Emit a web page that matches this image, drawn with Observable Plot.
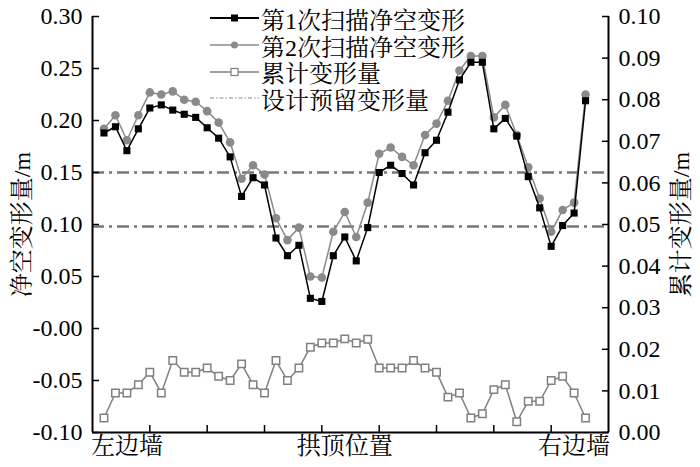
<!DOCTYPE html>
<html><head><meta charset="utf-8">
<script src="https://cdn.jsdelivr.net/npm/d3@7"></script>
<script src="https://cdn.jsdelivr.net/npm/@observablehq/plot@0.6"></script>
<style>
body{margin:0;background:#fff;}
#wrap{position:relative;width:700px;height:467px;font-family:'Liberation Serif','Noto Serif CJK SC',serif;}
#legend{position:absolute;left:210px;top:5px;font-size:24px;color:#000;font-family:'Liberation Serif','Noto Serif CJK SC',serif;}
#legend .row{display:flex;align-items:center;height:26.7px;white-space:nowrap;}
#legend svg{display:block;margin-right:1px;}
</style></head><body><div id="wrap"><div id="legend"></div></div>
<script>
// Measurement positions along the tunnel section (1..43)
const scan1 = [0.188,0.194,0.171,0.192,0.212,0.215,0.210,0.206,0.203,0.193,0.183,0.165,0.127,0.145,0.138,0.087,0.070,0.080,0.029,0.026,0.070,0.088,0.065,0.097,0.150,0.157,0.149,0.138,0.169,0.181,0.208,0.239,0.256,0.256,0.192,0.202,0.185,0.146,0.116,0.079,0.099,0.111,0.219];
const scan2 = [0.192,0.205,0.181,0.205,0.227,0.225,0.228,0.220,0.218,0.209,0.198,0.179,0.144,0.157,0.148,0.106,0.085,0.097,0.050,0.049,0.093,0.112,0.088,0.121,0.168,0.174,0.165,0.157,0.186,0.197,0.219,0.248,0.262,0.262,0.203,0.215,0.186,0.155,0.125,0.093,0.114,0.121,0.225];
const cumulative = [0.0035,0.0095,0.0095,0.0115,0.0145,0.0095,0.0173,0.0145,0.0145,0.0155,0.0135,0.0125,0.0165,0.0115,0.0095,0.0173,0.0125,0.0155,0.0205,0.0215,0.0215,0.0225,0.0215,0.0224,0.0155,0.0155,0.0155,0.0173,0.0155,0.0145,0.0085,0.0095,0.0035,0.0045,0.0103,0.0115,0.0026,0.0075,0.0075,0.0125,0.0135,0.0095,0.0035];
const designValues = [0.15, 0.098];
const leftTicks = [0.30,0.25,0.20,0.15,0.10,0.05,0,-0.05,-0.10];
const leftTickLabels = ["0.30","0.25","0.20","0.15","0.10","0.05","-0.00","-0.05","-0.10"];
const rightTicks = [0,0.01,0.02,0.03,0.04,0.05,0.06,0.07,0.08,0.09,0.10];
const rightTickLabels = ["0.00","0.01","0.02","0.03","0.04","0.05","0.06","0.07","0.08","0.09","0.10"];
const xTicks = [5,10,15,20,25,30,35,40];
const sectionPositions = [3,22,42];
const sectionLabels = ["左边墙","拱顶位置","右边墙"];
const seriesNames = ["第1次扫描净空变形","第2次扫描净空变形","累计变形量","设计预留变形量"];

const toLeft = r => -0.10 + r * 4;           // right axis (0..0.10) -> left axis (-0.10..0.30)
const rightTicksLeft = rightTicks.map(toLeft);

const s1 = scan1.map((v,i)=>({x:i+1,y:v}));
const s2 = scan2.map((v,i)=>({x:i+1,y:v}));
const s3 = cumulative.map((v,i)=>({x:i+1,y:v}));

const FONT = "'Liberation Serif','Noto Serif CJK SC',serif";
const GRAY = "#8a8a8a";

const chart = Plot.plot({
  width:700, height:467,
  marginLeft:92, marginRight:92, marginTop:16, marginBottom:35,
  x:{domain:[0,45]},
  y:{domain:[-0.10,0.30]},
  style:{fontFamily:FONT, fontSize:"24px", color:"#000", background:"#fff", overflow:"visible"},
  marks:[
    Plot.ruleY(designValues, {stroke:"#777", strokeWidth:2.5, strokeDasharray:"12,5,3,5"}),
    Plot.line(s3, {x:"x", y:d=>toLeft(d.y), stroke:"#808080", strokeWidth:1.5}),
    Plot.dot(s3, {x:"x", y:d=>toLeft(d.y), symbol:"square", r:4.2, fill:"white", stroke:"#808080", strokeWidth:1.5}),
    Plot.line(s2, {x:"x", y:"y", stroke:GRAY, strokeWidth:1.5}),
    Plot.dot(s2, {x:"x", y:"y", symbol:"circle", r:4.3, fill:GRAY, stroke:"none"}),
    Plot.line(s1, {x:"x", y:"y", stroke:"#000", strokeWidth:1.5}),
    Plot.dot(s1, {x:"x", y:"y", symbol:"square", r:4, fill:"#000", stroke:"none"}),
    Plot.ruleX([0,45], {stroke:"#000", strokeWidth:2}),
    Plot.ruleY([-0.10], {stroke:"#000", strokeWidth:2}),
    Plot.axisY(leftTicks, {anchor:"left", tickSize:-7, tickPadding:17, strokeWidth:1.5,
      tickFormat:d=>leftTickLabels[leftTicks.indexOf(d)], fontSize:24, fontFamily:FONT,
      label:"净空变形量/m", labelAnchor:"center", labelArrow:"none", labelOffset:80}),
    Plot.axisY(rightTicksLeft, {anchor:"right", tickSize:-7, tickPadding:17, strokeWidth:1.5,
      tickFormat:d=>rightTickLabels[rightTicksLeft.indexOf(d)], fontSize:24, fontFamily:FONT,
      label:"累计变形量/m", labelAnchor:"center", labelArrow:"none", labelOffset:80}),
    Plot.axisX(xTicks, {anchor:"bottom", tickSize:-7, strokeWidth:1.5, tickFormat:()=>"", label:null}),
    Plot.axisX(sectionPositions, {anchor:"bottom", tickSize:0, tickPadding:4,
      tickFormat:d=>sectionLabels[sectionPositions.indexOf(d)], fontSize:24, fontFamily:FONT, label:null})
  ]
});
// force the serif face on every text element (inline style, highest priority)
d3.select(chart).selectAll("text, tspan, g")
  .style("font-family", FONT)
  .style("font-variant", "normal")
  .style("font-variant-numeric", "normal");
document.getElementById("wrap").prepend(chart);

// Legend (overlaid at the top centre of the plot area)
const legendSpecs = [
  {stroke:"#000", width:2, dash:null, marker:"square", fill:"#000", mstroke:"none"},
  {stroke:GRAY, width:1.5, dash:null, marker:"circle", fill:GRAY, mstroke:"none"},
  {stroke:"#808080", width:1.5, dash:null, marker:"square", fill:"#fff", mstroke:"#808080"},
  {stroke:"#888", width:1.2, dash:"4,2,1.5,2", marker:null}
];
const legend = d3.select("#legend");
seriesNames.forEach((name,i)=>{
  const s = legendSpecs[i];
  const row = legend.append("div").attr("class","row");
  const svg = row.append("svg").attr("width",50).attr("height",26);
  svg.append("line").attr("x1",0).attr("x2",49).attr("y1",13).attr("y2",13)
    .attr("stroke",s.stroke).attr("stroke-width",s.width).attr("stroke-dasharray",s.dash);
  if (s.marker==="square") svg.append("rect").attr("x",21).attr("y",9.5).attr("width",7).attr("height",7)
    .attr("fill",s.fill).attr("stroke",s.mstroke).attr("stroke-width",1.2);
  if (s.marker==="circle") svg.append("circle").attr("cx",24.5).attr("cy",13).attr("r",3.5).attr("fill",s.fill);
  row.append("span").style("font-family", FONT).text(name);
});
</script>
</body></html>
